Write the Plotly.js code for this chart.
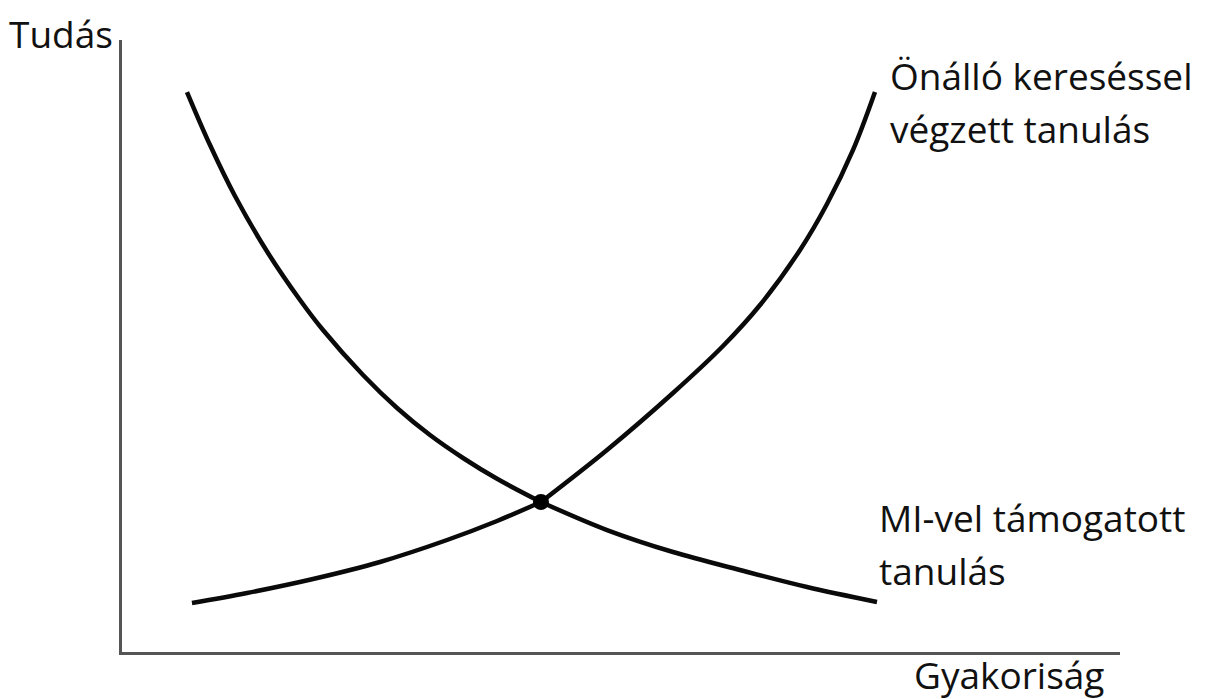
<!DOCTYPE html>
<html>
<head>
<meta charset="utf-8">
<script src="https://cdn.plot.ly/plotly-3.0.1.min.js"></script>
<style>
  html, body { margin: 0; padding: 0; background: #ffffff; }
  #chart { width: 1209px; height: 699px; }
</style>
</head>
<body>
<div id="chart"></div>
<script>
// Önálló kereséssel végzett tanulás (rising curve)
const onalloX = [0.701, 1.253, 1.914, 2.585, 3.257, 3.758, 4.198, 4.860, 5.521, 6.022, 6.393, 6.794, 7.064, 7.325, 7.545];
const onalloY = [0.801, 0.964, 1.193, 1.471, 1.830, 2.141, 2.451, 3.301, 4.232, 5.000, 5.670, 6.569, 7.320, 8.203, 9.150];

// MI-vel támogatott tanulás (falling curve)
const miX = [0.651, 0.882, 1.132, 1.463, 1.784, 2.014, 2.415, 2.756, 3.086, 3.417, 3.758, 4.198, 4.860, 5.521, 6.192, 6.864, 7.565];
const miY = [9.150, 8.284, 7.451, 6.520, 5.752, 5.261, 4.526, 3.987, 3.545, 3.170, 2.830, 2.451, 1.993, 1.634, 1.340, 1.062, 0.817];

// Intersection point
const crossX = [4.198];
const crossY = [2.451];

// Text labels
const yAxisLabel = "Tudás";
const xAxisLabel = "Gyakoriság";
const onalloLabel = ["Önálló kereséssel", "végzett tanulás"];
const miLabel = ["MI-vel támogatott", "tanulás"];

const lineStyle = { color: "#0a0a0a", width: 4.5, shape: "spline", smoothing: 1 };

// each curve is drawn as two smooth pieces that meet at the intersection dot
function pieces(xs, ys, name) {
  const k = xs.indexOf(crossX[0]);
  return [
    { x: xs.slice(0, k + 1), y: ys.slice(0, k + 1), type: "scatter", mode: "lines", line: lineStyle, hoverinfo: "skip", name: name },
    { x: xs.slice(k), y: ys.slice(k), type: "scatter", mode: "lines", line: lineStyle, hoverinfo: "skip", name: name }
  ];
}

const traces = [
  ...pieces(onalloX, onalloY, onalloLabel.join(" ")),
  ...pieces(miX, miY, miLabel.join(" ")),
  { x: crossX, y: crossY, type: "scatter", mode: "markers", marker: { color: "#000000", size: 16 }, hoverinfo: "skip" }
];

const textFont = { family: "Open Sans, sans-serif", size: 37, color: "#111111" };

function ann(text, xp, yp) {
  return { text: text, xref: "paper", yref: "paper", x: xp, y: yp, xanchor: "left", yanchor: "middle",
           showarrow: false, font: textFont, borderpad: 0 };
}
// pixel -> paper helpers (plot area: left 122, top 40, width 998, height 612)
const px = v => (v - 122) / 998;
const py = v => (652 - v) / 612;

const layout = {
  width: 1209, height: 699,
  margin: { l: 122, r: 89, t: 40, b: 47 },
  paper_bgcolor: "#ffffff", plot_bgcolor: "#ffffff",
  showlegend: false,
  xaxis: { range: [0, 10], showline: true, linecolor: "#555555", linewidth: 3, mirror: false,
           showgrid: false, zeroline: false, showticklabels: false, ticks: "", fixedrange: true },
  yaxis: { range: [0, 10], showline: true, linecolor: "#555555", linewidth: 3, mirror: false,
           showgrid: false, zeroline: false, showticklabels: false, ticks: "", fixedrange: true },
  annotations: [
    ann(yAxisLabel, px(8), py(33)),
    ann(xAxisLabel, px(913), py(674)),
    ann(onalloLabel[0], px(889), py(75)),
    ann(onalloLabel[1], px(889), py(128)),
    ann(miLabel[0], px(878), py(517)),
    ann(miLabel[1], px(878), py(570))
  ]
};

Plotly.newPlot("chart", traces, layout, { displayModeBar: false, staticPlot: true });
</script>
</body>
</html>
